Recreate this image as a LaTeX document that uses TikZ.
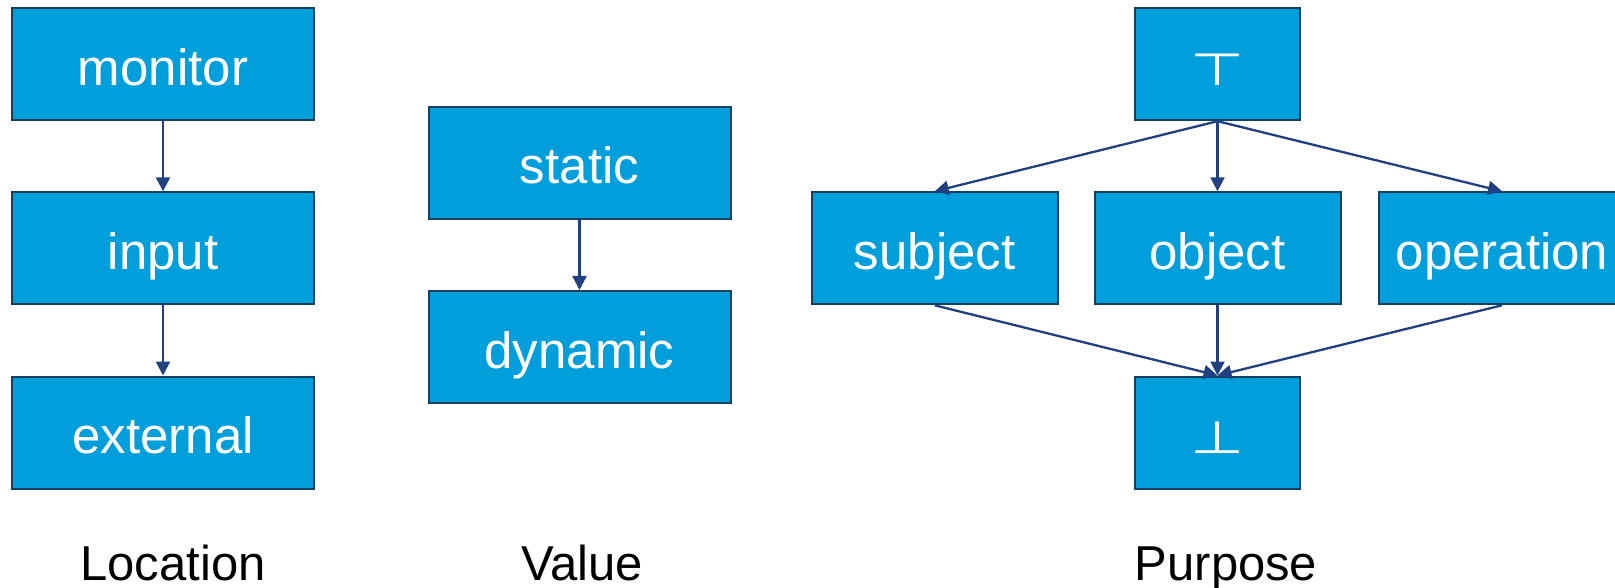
\documentclass[tikz,border=0pt]{standalone}
\usepackage{fontspec}
\setmainfont{Liberation Sans}
\newfontfamily\symfont{DejaVu Sans}
\usetikzlibrary{arrows.meta}
\definecolor{boxfill}{RGB}{0,158,219}
\definecolor{boxline}{RGB}{22,64,96}
\definecolor{arrowcol}{RGB}{33,64,128}
\tikzset{
  blk/.style={draw=boxline, line width=2pt, fill=boxfill, text=white, inner sep=0pt,
    minimum height=112pt, font=\fontsize{51}{60}\selectfont, text height=52pt, text depth=10pt},
  wide/.style={blk, minimum width=302pt},
  mid/.style={blk, minimum width=246pt},
  small/.style={blk, minimum width=165pt},
  conn/.style={draw=arrowcol, line width=2.3pt, -{Triangle[length=14pt,width=14pt]}},
  caption/.style={anchor=base, font=\fontsize{49}{58}\selectfont, text=black, inner sep=0pt}
}
\newcommand{\symglyph}[1]{\scalebox{1.38}[1]{\symfont\fontsize{45}{54}\selectfont #1}}
\begin{document}
\begin{tikzpicture}[x=1pt,y=-1pt]
\useasboundingbox (0,0) rectangle (1615,588);
\begin{scope}
\clip (0,0) rectangle (1615,588);
% Location
\node[wide] (monitor) at (163,64.2) {monitor};
\node[wide] (input) at (163,248.3) {input};
\node[wide] (external) at (163,432.5) {external};
% Value
\node[wide] (static) at (579.5,163) {static};
\node[wide] (dynamic) at (579.5,347) {dynamic};
% Purpose
\node[small] (top) at (1217.5,64.2) {\symglyph{⊤}};
\node[mid] (subject) at (934.7,248.3) {subject};
\node[mid] (object) at (1217.5,248.3) {object};
\node[mid] (operation) at (1502,248.3) {operation};
\node[small] (bottom) at (1217.5,432.5) {\symglyph{⊥}};
\end{scope}
\draw[conn] (monitor.south) -- (input.north);
\draw[conn] (input.south) -- (external.north);
\draw[conn] (static.south) -- (dynamic.north);
\draw[conn] (top.south) -- (subject.north);
\draw[conn] (top.south) -- (object.north);
\draw[conn] (top.south) -- (operation.north);
\draw[conn] (subject.south) -- (bottom.north);
\draw[conn] (object.south) -- (bottom.north);
\draw[conn] (operation.south) -- (bottom.north);
\node[caption] (loc) at (173,580) {Location};
\node[caption] (val) at (582,580) {Value};
\node[caption] (pur) at (1226,580) {Purpose};
\end{tikzpicture}
\end{document}
